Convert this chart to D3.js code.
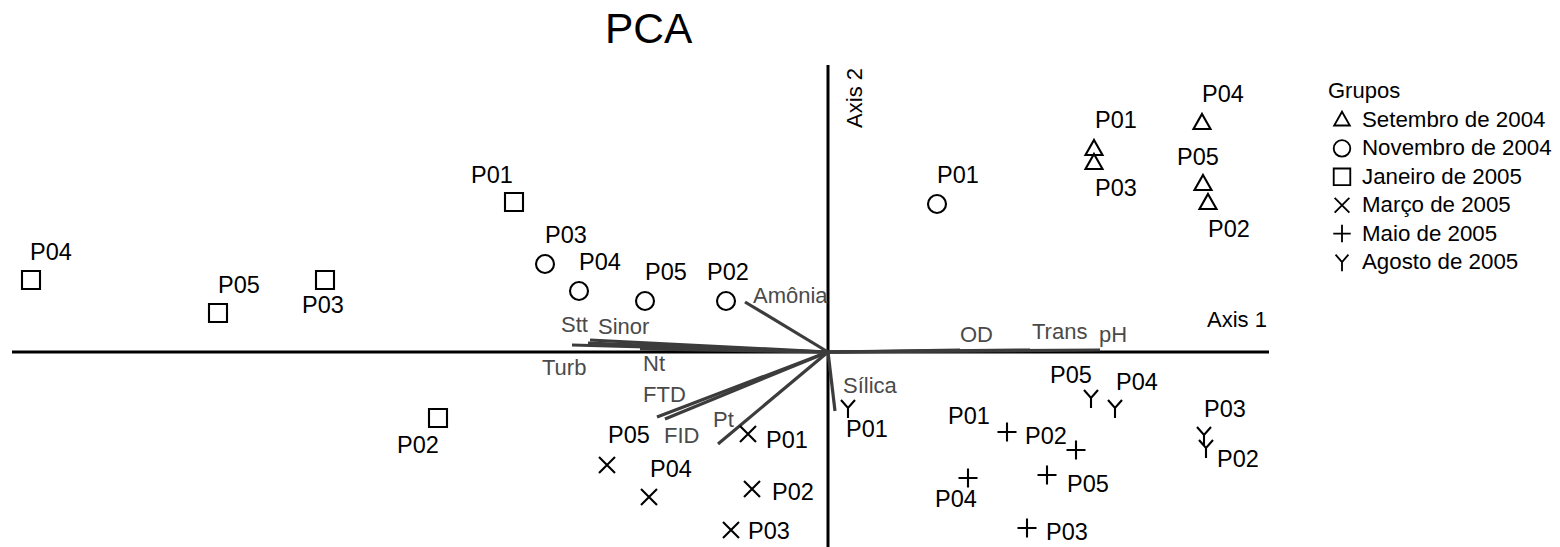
<!DOCTYPE html>
<html><head><meta charset="utf-8">
<script src="https://cdn.jsdelivr.net/npm/d3@7"></script>
<style>
html,body{margin:0;padding:0;background:#fff;}
svg{display:block;font-family:"Liberation Sans",Arial,sans-serif;}
</style></head>
<body><svg id="c" width="1560" height="547"></svg>
<script>
// ---- data (PCA scores) ----
const groups = ["Setembro de 2004","Novembro de 2004","Janeiro de 2005","Março de 2005","Maio de 2005","Agosto de 2005"];
const groupSymbols = ["triangle","circle","square","cross","plus","wye"];
const sites = ["P01","P02","P03","P04","P05"];
const setembroX = [2.66, 3.80, 2.66, 3.74, 3.75];
const setembroY = [2.03, 1.49, 1.89, 2.29, 1.68];
const novembroX = [1.09, -1.02, -2.83, -2.49, -1.83];
const novembroY = [1.48, 0.51, 0.88, 0.61, 0.51];
const janeiroX = [-3.14, -3.90, -5.03, -7.97, -6.10];
const janeiroY = [1.50, -0.66, 0.72, 0.72, 0.39];
const marcoX = [-0.80, -0.76, -0.97, -1.79, -2.21];
const marcoY = [-0.82, -1.37, -1.78, -1.45, -1.13];
const maioX = [1.79, 2.48, 1.99, 1.40, 2.19];
const maioY = [-0.80, -0.98, -1.76, -1.26, -1.23];
const agostoX = [0.20, 3.78, 3.76, 2.87, 2.63];
const agostoY = [-0.56, -0.96, -0.83, -0.56, -0.46];

const variables = ["Amônia","Stt","Sinor","Turb","Nt","FTD","FID","Pt","Sílica","OD","Trans","pH"];
const loadX = [-0.83, -2.56, -2.38, -2.40, -1.88, -1.71, -1.63, -1.10, 0.07, 1.32, 2.02, 2.72];
const loadY = [0.50, 0.07, 0.12, 0.09, 0.03, -0.65, -0.67, -0.92, -0.59, 0.02, 0.02, 0.02];

// ---- layout (label offsets in px, from marker to label start/baseline) ----
const labelOffsets = [
  [[1,-21],[0,34],[1,33],[0,-21],[-26,-19]],
  [[0,-21],[-19,-21],[0,-21],[0,-21],[0,-21]],
  [[-43,-19],[-41,35],[-23,33],[-1,-20],[0,-20]],
  [[18,14],[20,11],[17,9],[1,-20],[1,-22]],
  [[-59,-8],[-51,-6],[19,12],[-33,29],[20,17]],
  [[-2,29],[11,19],[0,-18],[1,-18],[-41,-15]]
];
const varLabelOffsets = [[8,1],[-11,-13],[8,-6],[-46,32],[3,22],[-14,-15],[-1,24],[-5,-17],[8,-18],[0,-8],[2,-11],[-1,-8]];

const groupX = [setembroX, novembroX, janeiroX, marcoX, maioX, agostoX];
const groupY = [setembroY, novembroY, janeiroY, marcoY, maioY, agostoY];

const svg = d3.select("#c");
const x = d3.scaleLinear().domain([-8.16, 4.41]).range([12, 1269]);
const y = d3.scaleLinear().domain([-1.95, 2.87]).range([547, 65]);

// title
svg.append("text").attr("x", 605).attr("y", 43).attr("font-size", 42.5).text("PCA");

// axes
svg.append("line").attr("x1", x(-8.16)).attr("x2", x(4.41)).attr("y1", y(0)).attr("y2", y(0))
  .attr("stroke", "#000").attr("stroke-width", 3);
svg.append("line").attr("x1", x(0)).attr("x2", x(0)).attr("y1", y(2.87)).attr("y2", y(-1.95))
  .attr("stroke", "#000").attr("stroke-width", 3);
svg.append("text").attr("x", 1207).attr("y", 327).attr("font-size", 22).text("Axis 1");
svg.append("text").attr("transform", `translate(${x(0)+34},68) rotate(-90)`).attr("text-anchor", "end")
  .attr("font-size", 22).text("Axis 2");

// loading vectors
const vec = svg.append("g");
variables.forEach((v, i) => {
  vec.append("line").attr("x1", x(0)).attr("y1", y(0)).attr("x2", x(loadX[i])).attr("y2", y(loadY[i]))
    .attr("stroke", "#3c3c3c").attr("stroke-width", 3.2);
});
variables.forEach((v, i) => {
  vec.append("text").attr("x", x(loadX[i]) + varLabelOffsets[i][0]).attr("y", y(loadY[i]) + varLabelOffsets[i][1])
    .attr("font-size", 22).attr("fill", "#4a4a4a").text(v);
});

// symbols
function symbolPath(kind) {
  switch (kind) {
    case "triangle": return "M0,-9L8.5,6L-8.5,6Z";
    case "circle": return "M9,0A9,9 0 1,1 -9,0A9,9 0 1,1 9,0Z";
    case "square": return "M-9,-9H9V9H-9Z";
    case "cross": return "M-8,-8L8,8M8,-8L-8,8";
    case "plus": return "M-9.5,0H9.5M0,-9.5V9.5";
    case "wye": return "M-7,-8L0,0L7,-8M0,0V10";
  }
}

const pts = svg.append("g");
groups.forEach((g, gi) => {
  sites.forEach((s, si) => {
    const px = x(groupX[gi][si]), py = y(groupY[gi][si]);
    pts.append("path").attr("d", symbolPath(groupSymbols[gi])).attr("transform", `translate(${px},${py})`)
      .attr("fill", "none").attr("stroke", "#000").attr("stroke-width", 2.1);
    pts.append("text").attr("x", px + labelOffsets[gi][si][0]).attr("y", py + labelOffsets[gi][si][1])
      .attr("font-size", 23.5).text(s);
  });
});

// legend
const leg = svg.append("g");
leg.append("text").attr("x", 1328).attr("y", 98).attr("font-size", 22).text("Grupos");
groups.forEach((g, i) => {
  const by = 127 + i * 28.4;
  leg.append("path").attr("d", symbolPath(groupSymbols[i])).attr("transform", `translate(1342,${by - 7}) scale(0.92)`)
    .attr("fill", "none").attr("stroke", "#000").attr("stroke-width", 2);
  leg.append("text").attr("x", 1362).attr("y", by).attr("font-size", 22.3).text(g);
});
</script></body></html>
